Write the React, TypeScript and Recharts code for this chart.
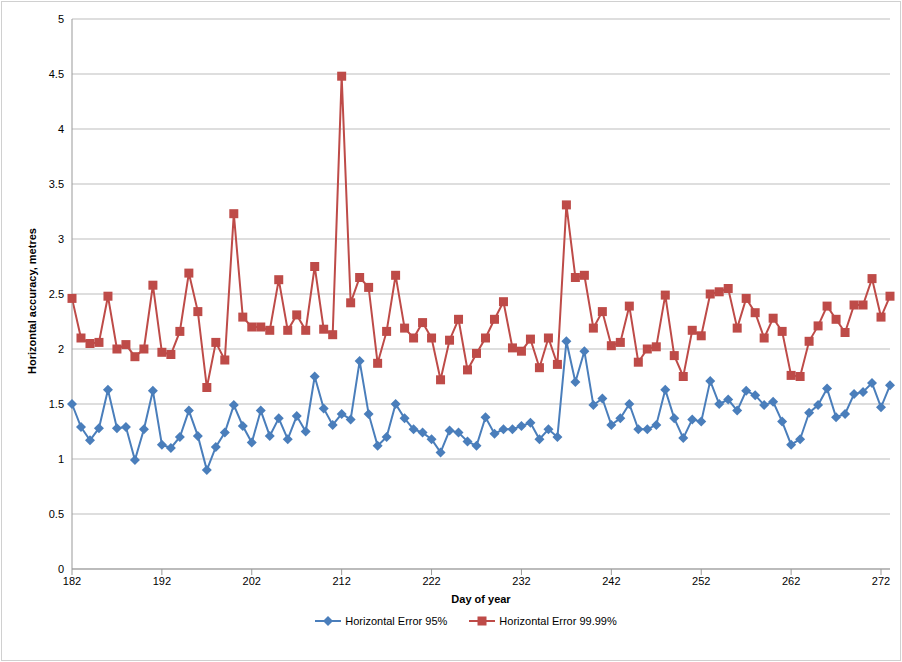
import React from 'react';
import { CartesianGrid, Legend, Line, LineChart, XAxis, YAxis } from 'recharts';

const firstDay = 182;

const error95 = [
  1.5, 1.29, 1.17, 1.28, 1.63, 1.28, 1.29, 0.99, 1.27, 1.62,
  1.13, 1.1, 1.2, 1.44, 1.21, 0.9, 1.11, 1.24, 1.49, 1.3,
  1.15, 1.44, 1.21, 1.37, 1.18, 1.39, 1.25, 1.75, 1.46, 1.31,
  1.41, 1.36, 1.89, 1.41, 1.12, 1.2, 1.5, 1.37, 1.27, 1.24,
  1.18, 1.06, 1.26, 1.24, 1.16, 1.12, 1.38, 1.23, 1.27, 1.27,
  1.3, 1.33, 1.18, 1.27, 1.2, 2.07, 1.7, 1.98, 1.49, 1.55,
  1.31, 1.37, 1.5, 1.27, 1.27, 1.31, 1.63, 1.37, 1.19, 1.36,
  1.34, 1.71, 1.5, 1.54, 1.44, 1.62, 1.58, 1.49, 1.52, 1.34,
  1.13, 1.18, 1.42, 1.49, 1.64, 1.38, 1.41, 1.59, 1.61, 1.69,
  1.47, 1.67,
];

const error9999 = [
  2.46, 2.1, 2.05, 2.06, 2.48, 2.0, 2.04, 1.93, 2.0, 2.58,
  1.97, 1.95, 2.16, 2.69, 2.34, 1.65, 2.06, 1.9, 3.23, 2.29,
  2.2, 2.2, 2.17, 2.63, 2.17, 2.31, 2.17, 2.75, 2.18, 2.13,
  4.48, 2.42, 2.65, 2.56, 1.87, 2.16, 2.67, 2.19, 2.1, 2.24,
  2.1, 1.72, 2.08, 2.27, 1.81, 1.96, 2.1, 2.27, 2.43, 2.01,
  1.98, 2.09, 1.83, 2.1, 1.86, 3.31, 2.65, 2.67, 2.19, 2.34,
  2.03, 2.06, 2.39, 1.88, 2.0, 2.02, 2.49, 1.94, 1.75, 2.17,
  2.12, 2.5, 2.52, 2.55, 2.19, 2.46, 2.33, 2.1, 2.28, 2.16,
  1.76, 1.75, 2.07, 2.21, 2.39, 2.27, 2.15, 2.4, 2.4, 2.64,
  2.29, 2.48,
];

const dayTicks = [182, 192, 202, 212, 222, 232, 242, 252, 262, 272];
const valueTicks = [0, 0.5, 1, 1.5, 2, 2.5, 3, 3.5, 4, 4.5, 5];

const data = error95.map((v, i) => ({
  day: firstDay + i,
  e95: v,
  e9999: error9999[i],
}));

const BLUE = '#4a7ebb';
const RED = '#be4b48';
const font = '"Liberation Sans", Arial, sans-serif';
const tick = { fontSize: 11, fill: '#000', fontFamily: font };

const Diamond = (p: any) => (
  <path
    key={p.index}
    d={`M${p.cx},${p.cy - 5}L${p.cx + 5},${p.cy}L${p.cx},${p.cy + 5}L${p.cx - 5},${p.cy}Z`}
    fill={BLUE}
  />
);

const Square = (p: any) => (
  <rect key={p.index} x={p.cx - 4.5} y={p.cy - 4.5} width={9} height={9} fill={RED} />
);

const LegendBox = () => (
  <div style={{ display: 'flex', justifyContent: 'center', gap: 22, fontSize: 11, fontFamily: font, color: '#000' }}>
    {[
      { name: 'Horizontal Error 95%', color: BLUE, sq: false },
      { name: 'Horizontal Error 99.99%', color: RED, sq: true },
    ].map((s) => (
      <span key={s.name} style={{ display: 'flex', alignItems: 'center', gap: 4 }}>
        <svg width={26} height={12}>
          <line x1={0} y1={6} x2={26} y2={6} stroke={s.color} strokeWidth={2} />
          {s.sq ? (
            <rect x={8.5} y={1.5} width={9} height={9} fill={s.color} />
          ) : (
            <path d="M13,1L18,6L13,11L8,6Z" fill={s.color} />
          )}
        </svg>
        {s.name}
      </span>
    ))}
  </div>
);

const App = () => (
  <div style={{ position: 'absolute', left: 0, top: 0, width: 902, height: 662 }}>
    <div style={{ position: 'absolute', left: 1, top: 1, width: 898, height: 658, border: '1px solid #d0d0d0' }} />
    <LineChart width={902} height={662} data={data} margin={{ top: 19, right: 12, left: 42, bottom: 23 }}>
      <CartesianGrid vertical={false} stroke="#bdbdbd" />
      <XAxis
        dataKey="day"
        type="number"
        domain={[182, 273]}
        ticks={dayTicks}
        interval={0}
        tick={tick}
        stroke="#999"
        height={46}
        label={{ value: 'Day of year', position: 'insideBottom', offset: 12, style: { fontSize: 11, fontWeight: 'bold', fill: '#000', fontFamily: font } }}
      />
      <YAxis
        domain={[0, 5]}
        ticks={valueTicks}
        tick={tick}
        tickLine={false}
        stroke="#999"
        width={30}
        label={{ value: 'Horizontal accuracy, metres', angle: -90, position: 'insideLeft', offset: -10, dy: 80, style: { fontSize: 11, fontWeight: 'bold', fill: '#000', fontFamily: font } }}
      />
      <Legend verticalAlign="bottom" height={24} content={<LegendBox />} />
      <Line
        name="Horizontal Error 95%"
        dataKey="e95"
        stroke={BLUE}
        strokeWidth={2}
        dot={Diamond}
        isAnimationActive={false}
      />
      <Line
        name="Horizontal Error 99.99%"
        dataKey="e9999"
        stroke={RED}
        strokeWidth={2}
        dot={Square}
        isAnimationActive={false}
      />
    </LineChart>
  </div>
);

export default App;
